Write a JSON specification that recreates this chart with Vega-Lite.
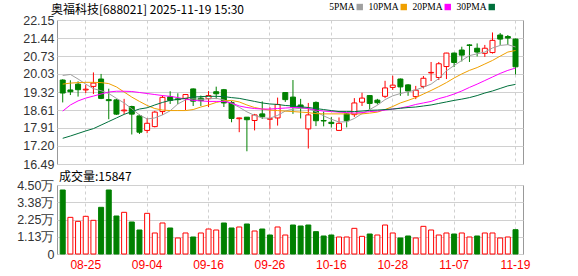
{
  "$schema": "https://vega.github.io/schema/vega-lite/v6.json",
  "background": "#ffffff",
  "padding": {"left": 4, "top": 2, "right": 0, "bottom": 0},
  "spacing": -1,
  "datasets": {
    "k": [
      {"d":"08-20","o":19.79,"h":19.82,"l":18.91,"c":19.28,"v":41740,"vd":"down","5PMA":19.97,"10PMA":19.63,"20PMA":18.57,"30PMA":17.50},
      {"d":"08-21","o":19.40,"h":19.78,"l":19.20,"c":19.33,"v":23900,"vd":"up","5PMA":20.01,"10PMA":19.67,"20PMA":18.81,"30PMA":17.59},
      {"d":"08-22","o":19.63,"h":19.74,"l":19.14,"c":19.41,"v":21300,"vd":"up","5PMA":19.83,"10PMA":19.69,"20PMA":18.97,"30PMA":17.69},
      {"d":"08-25","o":19.40,"h":19.61,"l":19.28,"c":19.43,"v":24570,"vd":"up","5PMA":19.63,"10PMA":19.70,"20PMA":19.08,"30PMA":17.79},
      {"d":"08-26","o":19.54,"h":20.09,"l":19.24,"c":19.67,"v":21960,"vd":"up","5PMA":19.45,"10PMA":19.70,"20PMA":19.16,"30PMA":17.88},
      {"d":"08-27","o":19.83,"h":20.03,"l":19.04,"c":19.07,"v":30440,"vd":"down","5PMA":19.37,"10PMA":19.69,"20PMA":19.24,"30PMA":18.02},
      {"d":"08-28","o":19.02,"h":19.45,"l":18.25,"c":18.98,"v":41740,"vd":"down","5PMA":19.26,"10PMA":19.65,"20PMA":19.32,"30PMA":18.16},
      {"d":"08-29","o":19.01,"h":19.05,"l":18.42,"c":18.45,"v":24780,"vd":"down","5PMA":19.07,"10PMA":19.52,"20PMA":19.35,"30PMA":18.30},
      {"d":"09-01","o":18.58,"h":19.05,"l":18.45,"c":18.61,"v":27180,"vd":"up","5PMA":18.89,"10PMA":19.32,"20PMA":19.35,"30PMA":18.44},
      {"d":"09-02","o":18.75,"h":18.78,"l":17.65,"c":18.45,"v":20870,"vd":"down","5PMA":18.66,"10PMA":19.12,"20PMA":19.34,"30PMA":18.55},
      {"d":"09-03","o":18.38,"h":18.43,"l":17.67,"c":17.74,"v":15650,"vd":"down","5PMA":18.42,"10PMA":18.95,"20PMA":19.30,"30PMA":18.65},
      {"d":"09-04","o":17.81,"h":18.30,"l":17.70,"c":18.09,"v":26520,"vd":"up","5PMA":18.26,"10PMA":18.79,"20PMA":19.26,"30PMA":18.70},
      {"d":"09-05","o":17.96,"h":18.58,"l":17.93,"c":18.53,"v":13700,"vd":"up","5PMA":18.30,"10PMA":18.67,"20PMA":19.22,"30PMA":18.81},
      {"d":"09-08","o":18.55,"h":19.18,"l":18.42,"c":19.11,"v":20220,"vd":"up","5PMA":18.42,"10PMA":18.61,"20PMA":19.18,"30PMA":18.91},
      {"d":"09-09","o":19.13,"h":19.35,"l":18.85,"c":18.99,"v":16960,"vd":"down","5PMA":18.58,"10PMA":18.59,"20PMA":19.15,"30PMA":18.99},
      {"d":"09-10","o":19.05,"h":19.27,"l":18.84,"c":19.02,"v":10440,"vd":"up","5PMA":18.85,"10PMA":18.59,"20PMA":19.10,"30PMA":19.03},
      {"d":"09-11","o":19.07,"h":19.24,"l":18.61,"c":19.22,"v":13700,"vd":"up","5PMA":19.01,"10PMA":18.59,"20PMA":19.04,"30PMA":19.07},
      {"d":"09-12","o":19.44,"h":19.46,"l":18.77,"c":18.96,"v":11090,"vd":"down","5PMA":19.05,"10PMA":18.63,"20PMA":18.99,"30PMA":19.12},
      {"d":"09-15","o":19.08,"h":19.18,"l":18.77,"c":18.98,"v":13700,"vd":"up","5PMA":19.03,"10PMA":18.73,"20PMA":18.97,"30PMA":19.14},
      {"d":"09-16","o":19.06,"h":19.36,"l":18.73,"c":19.18,"v":16300,"vd":"up","5PMA":19.05,"10PMA":18.81,"20PMA":18.95,"30PMA":19.15},
      {"d":"09-17","o":19.33,"h":19.53,"l":19.04,"c":19.25,"v":15650,"vd":"up","5PMA":19.07,"10PMA":18.91,"20PMA":18.95,"30PMA":19.15},
      {"d":"09-18","o":19.41,"h":19.44,"l":18.73,"c":18.89,"v":20220,"vd":"down","5PMA":19.01,"10PMA":18.97,"20PMA":18.95,"30PMA":19.14},
      {"d":"09-19","o":18.91,"h":18.97,"l":18.13,"c":18.28,"v":16960,"vd":"down","5PMA":18.87,"10PMA":18.99,"20PMA":18.89,"30PMA":19.10},
      {"d":"09-22","o":18.27,"h":18.31,"l":17.74,"c":18.30,"v":17610,"vd":"up","5PMA":18.72,"10PMA":18.93,"20PMA":18.77,"30PMA":19.07},
      {"d":"09-23","o":18.33,"h":18.33,"l":16.99,"c":18.23,"v":19570,"vd":"down","5PMA":18.54,"10PMA":18.81,"20PMA":18.71,"30PMA":19.01},
      {"d":"09-24","o":18.20,"h":18.46,"l":17.81,"c":18.42,"v":15000,"vd":"up","5PMA":18.40,"10PMA":18.71,"20PMA":18.67,"30PMA":18.95},
      {"d":"09-25","o":18.46,"h":18.95,"l":18.26,"c":18.35,"v":16300,"vd":"down","5PMA":18.30,"10PMA":18.65,"20PMA":18.65,"30PMA":18.89},
      {"d":"09-26","o":18.25,"h":18.72,"l":17.87,"c":18.27,"v":12390,"vd":"down","5PMA":18.29,"10PMA":18.61,"20PMA":18.65,"30PMA":18.85},
      {"d":"09-29","o":18.30,"h":19.10,"l":18.00,"c":18.83,"v":17610,"vd":"up","5PMA":18.40,"10PMA":18.59,"20PMA":18.67,"30PMA":18.83},
      {"d":"09-30","o":19.30,"h":19.32,"l":18.93,"c":19.02,"v":12390,"vd":"up","5PMA":18.57,"10PMA":18.57,"20PMA":18.69,"30PMA":18.79},
      {"d":"10-09","o":19.12,"h":19.79,"l":18.46,"c":18.74,"v":18910,"vd":"down","5PMA":18.65,"10PMA":18.55,"20PMA":18.71,"30PMA":18.77},
      {"d":"10-10","o":18.81,"h":19.05,"l":18.28,"c":18.70,"v":18260,"vd":"down","5PMA":18.68,"10PMA":18.53,"20PMA":18.71,"30PMA":18.74},
      {"d":"10-13","o":17.87,"h":18.89,"l":17.10,"c":18.42,"v":18910,"vd":"down","5PMA":18.67,"10PMA":18.51,"20PMA":18.67,"30PMA":18.71},
      {"d":"10-14","o":18.91,"h":18.95,"l":17.98,"c":18.19,"v":14570,"vd":"down","5PMA":18.55,"10PMA":18.47,"20PMA":18.61,"30PMA":18.67},
      {"d":"10-15","o":18.20,"h":18.55,"l":17.97,"c":18.18,"v":11740,"vd":"down","5PMA":18.38,"10PMA":18.46,"20PMA":18.57,"30PMA":18.63},
      {"d":"10-16","o":18.13,"h":18.33,"l":17.92,"c":18.08,"v":12390,"vd":"down","5PMA":18.25,"10PMA":18.46,"20PMA":18.55,"30PMA":18.59},
      {"d":"10-17","o":17.81,"h":18.32,"l":17.80,"c":18.09,"v":11090,"vd":"up","5PMA":18.14,"10PMA":18.46,"20PMA":18.53,"30PMA":18.55},
      {"d":"10-20","o":18.46,"h":18.49,"l":17.93,"c":18.19,"v":11090,"vd":"up","5PMA":18.15,"10PMA":18.46,"20PMA":18.51,"30PMA":18.55},
      {"d":"10-21","o":18.43,"h":19.08,"l":18.34,"c":18.89,"v":16740,"vd":"up","5PMA":18.28,"10PMA":18.46,"20PMA":18.49,"30PMA":18.55},
      {"d":"10-22","o":18.92,"h":19.29,"l":18.77,"c":19.08,"v":11520,"vd":"up","5PMA":18.47,"10PMA":18.46,"20PMA":18.51,"30PMA":18.57},
      {"d":"10-23","o":19.18,"h":19.20,"l":18.65,"c":18.87,"v":13040,"vd":"down","5PMA":18.63,"10PMA":18.49,"20PMA":18.55,"30PMA":18.60},
      {"d":"10-24","o":19.00,"h":19.05,"l":18.83,"c":18.90,"v":12390,"vd":"up","5PMA":18.80,"10PMA":18.53,"20PMA":18.57,"30PMA":18.61},
      {"d":"10-27","o":19.15,"h":19.76,"l":19.08,"c":19.48,"v":18910,"vd":"up","5PMA":19.02,"10PMA":18.63,"20PMA":18.61,"30PMA":18.63},
      {"d":"10-28","o":19.50,"h":19.96,"l":19.40,"c":19.59,"v":13700,"vd":"up","5PMA":19.17,"10PMA":18.75,"20PMA":18.65,"30PMA":18.65},
      {"d":"10-29","o":19.83,"h":19.85,"l":19.17,"c":19.52,"v":10440,"vd":"down","5PMA":19.26,"10PMA":18.89,"20PMA":18.69,"30PMA":18.68},
      {"d":"10-30","o":19.60,"h":19.63,"l":19.17,"c":19.36,"v":11740,"vd":"down","5PMA":19.33,"10PMA":18.99,"20PMA":18.75,"30PMA":18.71},
      {"d":"10-31","o":19.14,"h":19.56,"l":19.04,"c":19.39,"v":10440,"vd":"up","5PMA":19.40,"10PMA":19.10,"20PMA":18.83,"30PMA":18.73},
      {"d":"11-03","o":19.54,"h":19.95,"l":19.46,"c":19.86,"v":18040,"vd":"up","5PMA":19.51,"10PMA":19.24,"20PMA":18.89,"30PMA":18.77},
      {"d":"11-04","o":20.07,"h":20.50,"l":19.75,"c":20.09,"v":15650,"vd":"up","5PMA":19.63,"10PMA":19.38,"20PMA":18.95,"30PMA":18.81},
      {"d":"11-05","o":19.89,"h":20.50,"l":19.79,"c":20.43,"v":12390,"vd":"up","5PMA":19.85,"10PMA":19.53,"20PMA":19.06,"30PMA":18.87},
      {"d":"11-06","o":20.32,"h":20.86,"l":19.83,"c":20.85,"v":13700,"vd":"up","5PMA":20.15,"10PMA":19.69,"20PMA":19.14,"30PMA":18.93},
      {"d":"11-07","o":20.85,"h":20.87,"l":20.30,"c":20.48,"v":13040,"vd":"down","5PMA":20.36,"10PMA":19.87,"20PMA":19.24,"30PMA":18.99},
      {"d":"11-10","o":20.97,"h":21.10,"l":20.52,"c":20.77,"v":13700,"vd":"up","5PMA":20.56,"10PMA":20.03,"20PMA":19.36,"30PMA":19.04},
      {"d":"11-11","o":21.17,"h":21.20,"l":20.50,"c":21.15,"v":11090,"vd":"up","5PMA":20.75,"10PMA":20.17,"20PMA":19.50,"30PMA":19.10},
      {"d":"11-12","o":21.04,"h":21.23,"l":20.72,"c":20.89,"v":11740,"vd":"down","5PMA":20.82,"10PMA":20.28,"20PMA":19.63,"30PMA":19.18},
      {"d":"11-13","o":20.84,"h":21.17,"l":20.70,"c":21.04,"v":13700,"vd":"up","5PMA":20.89,"10PMA":20.42,"20PMA":19.77,"30PMA":19.28},
      {"d":"11-14","o":20.87,"h":21.66,"l":20.83,"c":21.35,"v":13700,"vd":"up","5PMA":21.05,"10PMA":20.56,"20PMA":19.91,"30PMA":19.36},
      {"d":"11-17","o":21.56,"h":21.64,"l":21.17,"c":21.40,"v":10440,"vd":"up","5PMA":21.15,"10PMA":20.73,"20PMA":20.05,"30PMA":19.46},
      {"d":"11-18","o":21.50,"h":21.56,"l":21.17,"c":21.44,"v":11090,"vd":"up","5PMA":21.18,"10PMA":20.89,"20PMA":20.17,"30PMA":19.56},
      {"d":"11-19","o":21.40,"h":21.42,"l":20.01,"c":20.31,"v":15847,"vd":"down","5PMA":21.09,"10PMA":20.95,"20PMA":20.26,"30PMA":19.62}
    ]
  },
  "config": {
    "view": {"stroke": "#999999", "strokeWidth": 1},
    "axis": {"domain": false, "ticks": false, "gridColor": "#d0d0d0", "gridWidth": 1, "title": null, "labelOverlap": false},
    "axisY": {"minExtent": 52, "maxExtent": 52, "labelPadding": 3, "labelFont": "Liberation Sans", "labelFontSize": 12.5, "labelColor": "#333333", "labelOverlap": false, "tickCount": 20},
    "title": {"anchor": "start", "frame": "group", "font": "Noto Sans CJK SC", "fontSize": 12, "fontWeight": "normal", "color": "#000000"}
  },
  "vconcat": [
    {
      "width": 466,
      "height": 144,
      "title": {"text": "奥福科技[688021] 2025-11-19 15:30", "dx": -6, "offset": -3},
      "data": {"name": "k"},
      "encoding": {
        "x": {"field": "d", "type": "ordinal", "sort": null,
          "scale": {"paddingInner": 0, "paddingOuter": 0.36, "align": 0.34},
          "axis": {"values": ["08-25","09-04","09-16","09-26","10-16","10-28","11-07","11-19"], "labels": false, "grid": true, "gridDash": [3,3], "minExtent": 0, "maxExtent": 0}}
      },
      "layer": [
        {
          "mark": {"type": "rule", "strokeWidth": 1},
          "encoding": {
            "y": {"field": "l", "type": "quantitative", "scale": {"domain": [16.49, 22.15], "zero": false, "nice": false},
              "axis": {"values": [16.49,17.20,17.91,18.61,19.32,20.03,20.73,21.44,22.15], "format": ".2f", "grid": true, "labelOverlap": false, "tickCount": 20}},
            "y2": {"field": "h"},
            "color": {"condition": {"test": "datum.c >= datum.o", "value": "#ff0000"}, "value": "#008000"}
          }
        },
        {
          "mark": {"type": "bar", "width": 5, "strokeWidth": 1},
          "encoding": {
            "y": {"field": "o", "type": "quantitative"},
            "y2": {"field": "c"},
            "fill": {"condition": {"test": "datum.c >= datum.o", "value": "#ffffff"}, "value": "#008000"},
            "stroke": {"condition": {"test": "datum.c >= datum.o", "value": "#ff0000"}, "value": "#008000"}
          }
        },
        {
          "transform": [{"fold": ["5PMA","10PMA","20PMA","30PMA"], "as": ["ma","val"]}],
          "mark": {"type": "line", "strokeWidth": 1},
          "encoding": {
            "y": {"field": "val", "type": "quantitative"},
            "color": {"field": "ma", "type": "nominal",
              "scale": {"domain": ["5PMA","10PMA","20PMA","30PMA"], "range": ["#a0a0a0","#f0a000","#ff00ff","#00703c"]},
              "legend": {"orient": "none", "legendX": 298, "legendY": -18, "direction": "horizontal", "title": null,
                "symbolType": "square", "symbolSize": 2, "symbolStrokeWidth": 5,
                "labelAlign": "right", "labelOffset": -10, "columnPadding": -3,
                "labelFont": "Liberation Serif", "labelFontSize": 9.5, "labelColor": "#000000"}}
          }
        }
      ]
    },
    {
      "width": 466,
      "height": 69,
      "title": {"text": "成交量:15847", "dx": 2, "offset": -5},
      "data": {"name": "k"},
      "mark": {"type": "bar", "width": 5, "strokeWidth": 1},
      "encoding": {
        "x": {"field": "d", "type": "ordinal", "sort": null,
          "scale": {"paddingInner": 0, "paddingOuter": 0.36, "align": 0.34},
          "axis": {"values": ["08-25","09-04","09-16","09-26","10-16","10-28","11-07","11-19"], "grid": true, "gridDash": [3,3],
            "labelAngle": 0, "labelColor": "#ff0000", "labelFont": "Liberation Sans", "labelFontSize": 12, "labelPadding": 5}},
        "y": {"field": "v", "type": "quantitative", "scale": {"domain": [0, 45000], "nice": false},
          "axis": {"values": [0, 11250, 22500, 33750, 45000], "grid": true, "labelOverlap": false, "tickCount": 20,
            "labelBound": false, "labelFlush": false,
            "labelExpr": "datum.value > 100 ? format(datum.value / 10000, '.2f') + '万' : '\u200b0'"}},
        "fill": {"condition": {"test": "datum.vd == 'up'", "value": "#ffffff"}, "value": "#008000"},
        "stroke": {"condition": {"test": "datum.vd == 'up'", "value": "#ff0000"}, "value": "#008000"}
      }
    }
  ]
}
